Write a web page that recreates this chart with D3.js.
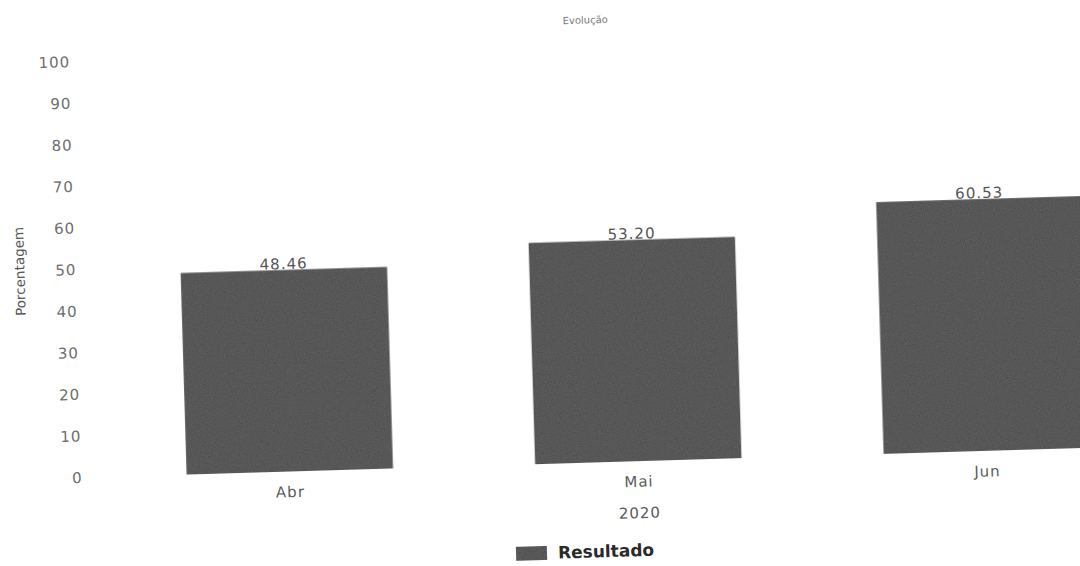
<!DOCTYPE html>
<html>
<head>
<meta charset="utf-8">
<script src="https://cdn.jsdelivr.net/npm/d3@7"></script>
<style>
  html, body { margin: 0; padding: 0; background: #ffffff; overflow: hidden; }
  svg { display: block; }
  text { font-family: "DejaVu Sans", Verdana, sans-serif; }
</style>
</head>
<body>
<svg id="chart" width="1080" height="566"></svg>
<script>
// ---- data ----
const categories = ["Abr", "Mai", "Jun"];
const values = [48.46, 53.20, 60.53];
const yTicks = [0, 10, 20, 30, 40, 50, 60, 70, 80, 90, 100];
const chartTitle = "Evolução";
const yTitle = "Porcentagem";
const xGroupLabel = "2020";
const seriesName = "Resultado";

// ---- layout ----
const svg = d3.select("#chart");
const FONT = "'DejaVu Sans', Verdana, sans-serif";

// subtle scan-like texture for bars
const defs = svg.append("defs");
const f = defs.append("filter").attr("id", "grain").attr("x", 0).attr("y", 0).attr("width", 1).attr("height", 1);
f.append("feTurbulence").attr("type", "fractalNoise").attr("baseFrequency", 0.9).attr("numOctaves", 2).attr("seed", 3).attr("result", "noise");
f.append("feColorMatrix").attr("in", "noise").attr("type", "matrix")
  .attr("values", "0 0 0 0 0.25  0 0 0 0 0.25  0 0 0 0 0.25  0 0 0 0.4 0").attr("result", "dark");
f.append("feComposite").attr("in", "dark").attr("in2", "SourceGraphic").attr("operator", "in").attr("result", "tex");
f.append("feMerge").selectAll("feMergeNode").data(["SourceGraphic", "tex"]).enter()
  .append("feMergeNode").attr("in", d => d);

const g = svg.append("g").attr("transform", "rotate(-1.7 540 283)");

const x = d3.scaleBand().domain(categories).range([110, 1156])
  .paddingInner(0.408).paddingOuter(0.204);
const y = d3.scaleLinear().domain([0, 100]).range([464, 48]);

// title
g.append("text").attr("x", 593).attr("y", 25).attr("text-anchor", "middle")
  .attr("font-size", 10).attr("fill", "#777").text(chartTitle);

// y axis (labels only)
const yAxis = d3.axisLeft(y).tickValues(yTicks).tickSize(0).tickPadding(0);
const ya = g.append("g").attr("transform", "translate(77,0)").call(yAxis);
ya.select(".domain").remove();
ya.selectAll("text").attr("font-size", 15).attr("fill", "#6e6e6e")
  .attr("letter-spacing", 1).attr("font-family", FONT);

// y title
g.append("text").attr("transform", "translate(25,256) rotate(-90)")
  .attr("text-anchor", "middle").attr("font-size", 13.5).attr("fill", "#555").text(yTitle);

// bars
g.selectAll("rect.bar").data(values).enter().append("rect")
  .attr("class", "bar")
  .attr("x", (d, i) => x(categories[i]))
  .attr("y", d => y(d))
  .attr("width", x.bandwidth())
  .attr("height", d => y(0) - y(d))
  .attr("fill", "#454545")
  .attr("filter", "url(#grain)");

// value labels
g.selectAll("text.val").data(values).enter().append("text")
  .attr("class", "val")
  .attr("x", (d, i) => x(categories[i]) + x.bandwidth() / 2)
  .attr("y", d => y(d) - 1)
  .attr("text-anchor", "middle").attr("font-size", 15).attr("letter-spacing", 1)
  .attr("fill", "#555")
  .text(d => d.toFixed(2));

// x axis (labels only)
const xAxis = d3.axisBottom(x).tickSize(0).tickPadding(0);
const xa = g.append("g").attr("transform", "translate(0,479)").call(xAxis);
xa.select(".domain").remove();
xa.selectAll("text").attr("font-size", 15).attr("fill", "#5a5a5a")
  .attr("letter-spacing", 1).attr("font-family", FONT);

// x group label
g.append("text").attr("x", x("Mai") + x.bandwidth() / 2).attr("y", 521)
  .attr("text-anchor", "middle").attr("font-size", 15).attr("letter-spacing", 1)
  .attr("fill", "#5a5a5a").text(xGroupLabel);

// legend
const lg = g.append("g").attr("transform", "translate(508,546)");
lg.append("rect").attr("x", 0).attr("y", 0).attr("width", 31).attr("height", 14)
  .attr("fill", "#454545").attr("filter", "url(#grain)");
lg.append("text").attr("x", 42).attr("y", 13).attr("font-size", 17).attr("font-weight", "bold")
  .attr("fill", "#2a2a2a").text(seriesName);
</script>
</body>
</html>
